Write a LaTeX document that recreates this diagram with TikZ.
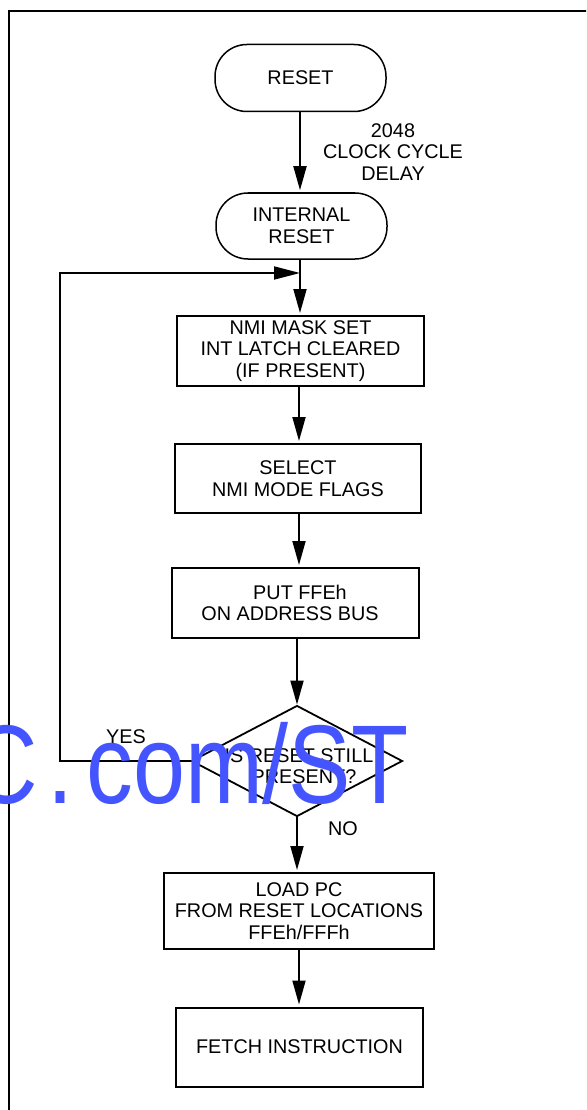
\documentclass[tikz,border=0pt]{standalone}
\usepackage{fontspec}
\setmainfont{Liberation Sans}
\usetikzlibrary{arrows.meta,shapes.geometric}
\definecolor{wmblue}{RGB}{68,85,255}
\tikzset{
  txt/.style={font=\fontsize{19.8}{21.5}\selectfont, align=center, inner sep=0pt},
  stadium/.style={draw, line width=1.5pt, rounded corners=32pt, minimum width=171pt, minimum height=67pt, txt},
  procbox/.style={draw, line width=2pt, minimum width=247pt, minimum height=70pt, txt},
  decision/.style={draw, line width=1.8pt, diamond, minimum width=211pt, minimum height=111pt, inner sep=0pt},
  arr/.style={line width=1.8pt, -{Triangle[length=24pt,width=13pt]}, shorten >=2pt},
  lne/.style={line width=1.8pt},
}
\begin{document}
\begin{tikzpicture}[x=1pt,y=-1pt]
\useasboundingbox (0,0) rectangle (586,1110);
\clip (0,0) rectangle (586,1110);
% frame
\draw[line width=2pt] (9,1112) -- (9,11) -- (588,11);
% nodes
\node[stadium] (reset) at (300.5,78) {RESET};
\node[txt] (delay) at (393,152) {2048\\CLOCK CYCLE\\DELAY};
\node[stadium, minimum height=66pt] (ireset) at (301.5,226) {INTERNAL\\RESET};
\node[procbox] (nmi) at (300.5,351) {NMI MASK SET\\INT LATCH CLEARED\\(IF PRESENT)};
\node[procbox, minimum width=246pt, minimum height=69pt] (sel) at (298,478.5) {SELECT\\NMI MODE FLAGS};
\node[procbox] (put) at (295.5,603) {\hspace*{9pt}PUT FFEh\\ON ADDRESS BUS\kern11pt};
\node[decision] (dia) at (297,761) {};
\node[txt] (diatext) at (299,766) {IS RESET STILL\\\kern10pt PRESENT?};
\node[procbox, minimum width=270pt, minimum height=76pt] (load) at (299,911) {LOAD PC\\FROM RESET LOCATIONS\\FFEh/FFFh};
\node[procbox, minimum height=79pt] (fetch) at (299.5,1047) {FETCH INSTRUCTION};
\node[txt] (yes) at (126,737) {YES};
\node[txt] (no) at (343,829) {NO};
% connectors
\coordinate (lbot) at (60,761);
\coordinate (ltop) at (60,273);
\coordinate (join) at (300,273);
\draw[arr] (reset.south -| 300,0) -- (ireset.north -| 300,0);
\draw[lne] (ireset.south -| 300,0) -- (join);
\draw[arr] (join) -- (nmi.north -| 300,0);
\draw[arr, shorten >=0pt, -{Triangle[length=26pt,width=13pt]}] (dia.west) -- (lbot) -- (ltop) -- (join);
\draw[arr] (nmi.south -| 299,0) -- (sel.north -| 299,0);
\draw[arr] (sel.south -| 299,0) -- (put.north -| 299,0);
\draw[arr, shorten >=0pt] (put.south -| dia.north) -- (dia.north);
\draw[arr] (dia.south) -- (load.north -| dia.south);
\draw[arr] (load.south -| 299,0) -- (fetch.north -| 299,0);
% watermark
\node[anchor=base west, inner sep=0pt, text=wmblue] (wm) at (-30,803)
  {\scalebox{0.835}[1]{\fontsize{112}{112}\selectfont C\kern12pt.\kern15pt com/ST}};
\end{tikzpicture}
\end{document}
